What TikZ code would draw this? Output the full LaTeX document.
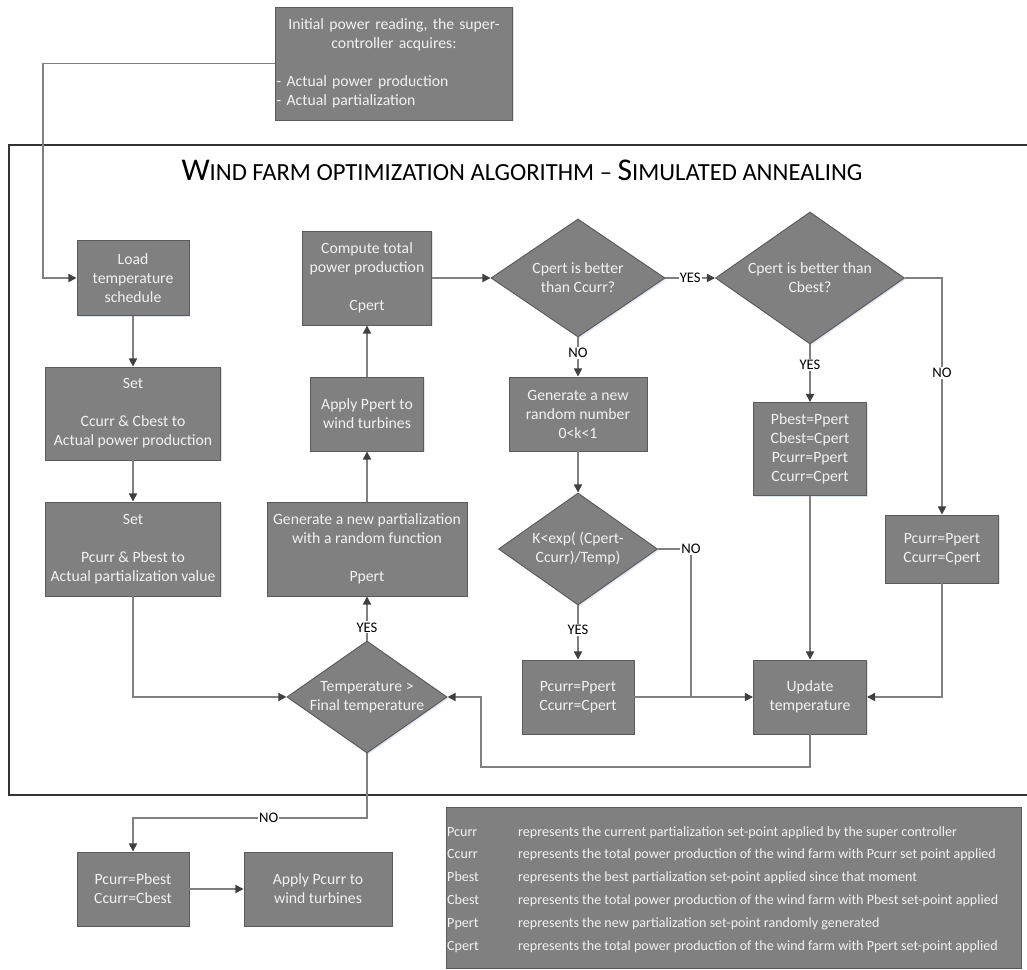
\documentclass[tikz,border=0pt]{standalone}
\usepackage{fontspec}
\setmainfont{Carlito}
\usetikzlibrary{shapes.geometric,arrows.meta,shadows}

\definecolor{boxfill}{RGB}{128,128,128}
\definecolor{boxline}{RGB}{90,90,90}
\definecolor{boxtext}{RGB}{242,242,242}
\definecolor{linegray}{RGB}{128,128,128}
\definecolor{tipgray}{RGB}{64,64,64}
\definecolor{shadowblue}{RGB}{210,220,238}
\newcommand{\fsc}[1]{{\fontsize{21}{22}\selectfont #1}}

\begin{document}
\begin{tikzpicture}[x=0.03cm,y=-0.03cm,
  >={Triangle[length=7pt,width=7pt,color=tipgray]},
  box/.style={rectangle,draw=boxline,fill=boxfill,text=boxtext,align=center,
    font=\fontsize{13.4}{16.2}\selectfont,inner sep=1pt,line width=0.8pt,
    drop shadow={shadow xshift=1.2pt,shadow yshift=-1.2pt,fill=shadowblue,opacity=0.7}},
  dec/.style={box,diamond,aspect=1.45,inner sep=0pt},
  flow/.style={->,draw=linegray,line width=1.3pt},
  plain/.style={draw=linegray,line width=1.3pt},
  lab/.style={fill=white,text=black,inner sep=1pt,font=\fontsize{12.5}{13}\selectfont},
  legtext/.style={text=boxtext,inner sep=0pt,font=\fontsize{12}{13}\selectfont}]
        \useasboundingbox (0,0) rectangle (1027,969);

        % outer frame
        \draw[line width=1.2pt,draw=black!80] (1027,145) -- (9,145) -- (9,795) -- (1027,795);
        \node (title) at (522,170) {\fontsize{27}{28}\selectfont W\fsc{IND FARM OPTIMIZATION ALGORITHM – }S\fsc{IMULATED ANNEALING}};

        \node[box,text width=7.05cm,align=left,minimum height=3.39cm,inner xsep=1pt] (init) at (394,63.5)
            {{\centering Initial power reading, the super-\\controller acquires:\par}\vspace{\baselineskip}- Actual power production\\- Actual partialization};

        \node[box,minimum width=3.36cm,minimum height=2.25cm] (load) at (133,278) {Load\\temperature\\schedule};
        \node[box,minimum width=5.25cm,minimum height=2.79cm] (setc) at (133,413.5) {Set\\ \\Ccurr \& Cbest to\\Actual power production};
        \node[box,minimum width=5.25cm,minimum height=2.82cm] (setp) at (133,549) {Set\\ \\Pcurr \& Pbest to\\Actual partialization value};

        \node[box,minimum width=3.87cm,minimum height=2.82cm] (comp) at (367,278) {Compute total\\power production\\ \\Cpert};
        \node[box,minimum width=3.39cm,minimum height=2.22cm] (apply) at (367,414) {Apply Ppert to\\wind turbines};
        \node[box,minimum width=6.0cm,minimum height=2.82cm] (gen) at (367,549) {Generate a new partialization\\with a random function\\ \\Ppert};
        \node[dec,minimum width=4.77cm,minimum height=3.36cm] (temp) at (367,697) {Temperature >\\Final temperature};

        \node[dec,minimum width=5.22cm,minimum height=3.54cm] (dcurr) at (578,278) {Cpert is better\\than Ccurr?};
        \node[box,minimum width=4.14cm,minimum height=2.22cm] (rnd) at (578,414) {Generate a new\\random number\\0<k<1};
        \node[dec,minimum width=4.77cm,minimum height=3.36cm] (dexp) at (578,549) {K<exp( (Cpert-\\Ccurr)/Temp)};
        \node[box,minimum width=3.36cm,minimum height=2.22cm] (acc) at (578,697) {Pcurr=Ppert\\Ccurr=Cpert};

        \node[dec,minimum width=5.67cm,minimum height=3.96cm] (dbest) at (810,278) {Cpert is better than\\Cbest?};
        \node[box,minimum width=3.39cm,minimum height=2.79cm] (best) at (810,449) {Pbest=Ppert\\Cbest=Cpert\\Pcurr=Ppert\\Ccurr=Cpert};
        \node[box,minimum width=3.39cm,minimum height=2.22cm] (upd) at (810,697) {Update\\temperature};
        \node[box,minimum width=3.39cm,minimum height=2.04cm] (keep) at (942,549) {Pcurr=Ppert\\Ccurr=Cpert};

        \node[box,minimum width=3.36cm,minimum height=2.22cm] (fin) at (133,889) {Pcurr=Pbest\\Ccurr=Cbest};
        \node[box,minimum width=4.44cm,minimum height=2.22cm] (applyc) at (318,889) {Apply Pcurr to\\wind turbines};

        % legend
        \node[box,minimum width=17.25cm,minimum height=4.83cm] (legend) at (733.5,887.5) {};
        \foreach \key/\desc [count=\i] in {
            Pcurr/represents the current partialization set-point applied by the super controller,
            Ccurr/represents the total power production of the wind farm with Pcurr set point applied,
            Pbest/represents the best partialization set-point applied since that moment,
            Cbest/represents the total power production of the wind farm with Pbest set-point applied,
            Ppert/represents the new partialization set-point randomly generated,
            Cpert/represents the total power production of the wind farm with Ppert set-point applied}
        {
            \node[legtext,anchor=base west] (key\i) at (447,836+22.8*\i-22.8) {\key};
            \node[legtext,anchor=base west] (desc\i) at (518,836+22.8*\i-22.8) {\desc};
        }

        \coordinate (bend1) at (43,278);
        \coordinate (bend2) at (481,767);
        \coordinate (bend3) at (367,818);
        \coordinate (join) at (691,697);

        \path[flow] (load) edge (setc)
                    (setc) edge (setp)
                    (temp) edge node[lab,pos=0.3] {YES} (gen)
                    (gen) edge (apply)
                    (apply) edge (comp)
                    (comp) edge (dcurr)
                    (dcurr) edge node[lab] {YES} (dbest)
                           edge node[lab,pos=0.4] {NO} (rnd)
                    (rnd) edge (dexp)
                    (dexp) edge node[lab,pos=0.45] {YES} (acc)
                    (acc) edge (upd)
                    (dbest) edge node[lab,pos=0.36] {YES} (best)
                    (best) edge (upd)
                    (fin) edge (applyc);

        \draw[flow] (init.west) -| (bend1) -- (load);
        \draw[flow] (setp) |- (temp);
        \draw[flow] (dbest) -| node[lab,pos=0.7] {NO} (keep);
        \draw[flow] (keep) |- (upd);
        \draw[flow] (upd) |- (bend2) |- (temp);
        \draw[plain] (dexp) -| node[lab,pos=0.5] {NO} (join);
        \draw[flow] (temp) -- (bend3) -| node[lab,pos=0.21] {NO} (fin);
\end{tikzpicture}
\end{document}
